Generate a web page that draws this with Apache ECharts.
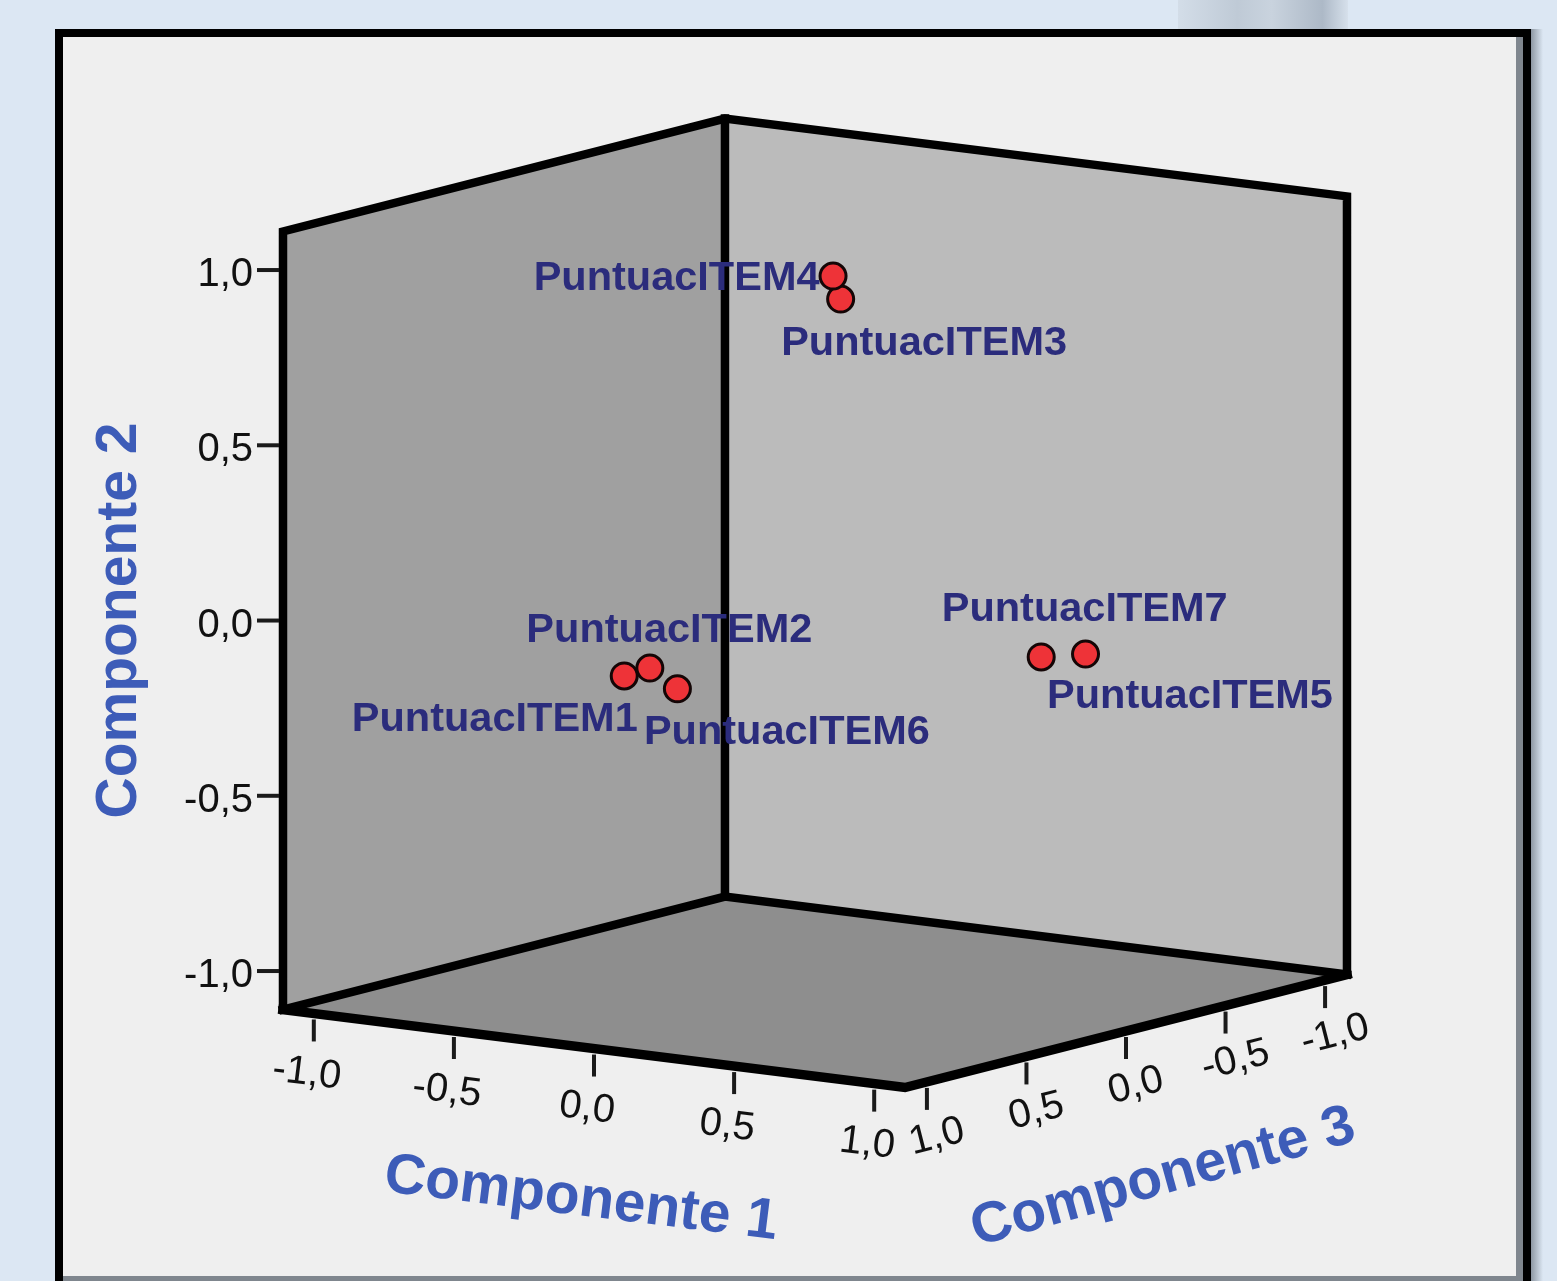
<!DOCTYPE html>
<html>
<head>
<meta charset="utf-8">
<title>Gráfico de componentes en espacio rotado</title>
<style>
  html, body { margin: 0; padding: 0; background: #dce7f3; }
  #chart { width: 1557px; height: 1281px; }
</style>
<script src="https://cdn.jsdelivr.net/npm/echarts@6/dist/echarts.min.js"></script>
</head>
<body>
<div id="chart"></div>
<script>
// Rotated component loadings for each item
const items = ['PuntuacITEM1', 'PuntuacITEM2', 'PuntuacITEM3', 'PuntuacITEM4', 'PuntuacITEM5', 'PuntuacITEM6', 'PuntuacITEM7'];
const comp1 = [-0.02, 0.05, 0.12, 0.10, 0.93, 0.12, 0.85];
const comp2 = [-0.075, -0.05, 0.885, 0.95, -0.06, -0.108, -0.06];
const comp3 = [0.93, 0.90, 0.04, 0.05, -0.05, 0.86, 0.06];

// Axis ticks shared by the three components
const tickValues = [-1.0, -0.5, 0.0, 0.5, 1.0];
const tickLabels = ['-1,0', '-0,5', '0,0', '0,5', '1,0'];
const axisTitles = ['Componente 1', 'Componente 2', 'Componente 3'];

// Half-size of the drawn box, in loading units
const BOX = 1.11;

// Parallel projection: screen direction of one unit along Componente 1 and 3
// (Componente 2 points straight up with unit length)
const DIR1 = [0.7994, -0.1001];
const DIR3 = [-0.5680, -0.1452];
function project(c1, c2, c3) {
  return [DIR1[0] * c1 + DIR3[0] * c3, c2 + DIR1[1] * c1 + DIR3[1] * c3];
}

// Where each item's name sits around its marker (pixels from the marker centre)
const SYMBOL_SIZE = 26;
const labelPlacement = {
  PuntuacITEM1: { align: 'right', dx: 15, dy: 45 },
  PuntuacITEM2: { align: 'center', dx: 21, dy: -36 },
  PuntuacITEM3: { align: 'left', dx: -58, dy: 46 },
  PuntuacITEM4: { align: 'right', dx: -12, dy: 4 },
  PuntuacITEM5: { align: 'left', dx: -37, dy: 44 },
  PuntuacITEM6: { align: 'left', dx: -32, dy: 45 },
  PuntuacITEM7: { align: 'left', dx: -98, dy: -46 }
};

const TITLE_COLOR = '#3d5cb8';
const TICK_FONT = '40px "Liberation Sans", Arial, sans-serif';
const TITLE_FONT = 'bold 57px "Liberation Sans", Arial, sans-serif';

function renderBox(params, api) {
  const R = BOX;
  const P = (c1, c2, c3) => api.coord(project(c1, c2, c3));
  const children = [];

  const wall = (pts, fill) => children.push({
    type: 'polygon', shape: { points: pts }, style: { fill: fill, stroke: null }
  });
  wall([P(-R, -R, R), P(-R, R, R), P(-R, R, -R), P(-R, -R, -R)], '#a0a0a0');
  wall([P(-R, -R, -R), P(-R, R, -R), P(R, R, -R), P(R, -R, -R)], '#bbbbbb');
  wall([P(-R, -R, R), P(-R, -R, -R), P(R, -R, -R), P(R, -R, R)], '#8e8e8e');

  const edge = (pts, w) => children.push({
    type: 'polyline', shape: { points: pts },
    style: { stroke: '#000', lineWidth: w, fill: null, lineJoin: 'miter', lineCap: 'square' }
  });
  edge([P(-R, -R, R), P(-R, R, R), P(-R, R, -R), P(R, R, -R), P(R, -R, -R)], 8.5);
  edge([P(-R, R, -R), P(-R, -R, -R)], 8.5);
  edge([P(-R, -R, R), P(-R, -R, -R), P(R, -R, -R)], 8.5);
  edge([P(-R, -R, R), P(R, -R, R), P(R, -R, -R)], 9.5);

  const tick = (x1, y1, x2, y2) => children.push({
    type: 'line', shape: { x1: x1, y1: y1, x2: x2, y2: y2 },
    style: { stroke: '#1a1a1a', lineWidth: 4 }
  });
  const text = (x, y, str, font, fill, align, rot) => children.push({
    type: 'text', x: x, y: y, rotation: rot || 0,
    style: { text: str, font: font, fill: fill, align: align, verticalAlign: 'middle' }
  });

  tickValues.forEach((t, i) => {
    // Componente 2 along the left vertical edge
    const a = P(-R, t, R);
    tick(a[0] - 26, a[1], a[0] - 4, a[1]);
    text(a[0] - 30, a[1] + 5, tickLabels[i], TICK_FONT, '#111', 'right');
    // Componente 1 along the front-left floor edge
    const b = P(t, -R, R);
    tick(b[0], b[1] + 6, b[0], b[1] + 28);
    text(b[0] - 7, b[1] + 60, tickLabels[i], TICK_FONT, '#111', 'center', -0.124);
    // Componente 3 along the front-right floor edge
    const c = P(R, -R, t);
    tick(c[0], c[1] + 6, c[0], c[1] + 28);
    text(c[0] + 10, c[1] + 55, tickLabels[i], TICK_FONT, '#111', 'center', 0.25);
  });

  const m1 = P(0, -R, R);
  text(m1[0] - 13, m1[1] + 151, axisTitles[0], TITLE_FONT, TITLE_COLOR, 'center', -0.122);
  const m2 = P(-R, 0, R);
  text(m2[0] - 163, m2[1], axisTitles[1], TITLE_FONT, TITLE_COLOR, 'center', Math.PI / 2);
  const m3 = P(R, -R, 0);
  text(m3[0] + 37, m3[1] + 147, axisTitles[2], TITLE_FONT, TITLE_COLOR, 'center', 0.27);

  return { type: 'group', children: children };
}

const half = SYMBOL_SIZE / 2;
const points = items.map((name, i) => {
  const lp = labelPlacement[name];
  return {
    name: name,
    value: project(comp1[i], comp2[i], comp3[i]),
    label: {
      position: [half + lp.dx, half + lp.dy],
      align: lp.align,
      verticalAlign: 'middle'
    }
  };
});

const chart = echarts.init(document.getElementById('chart'), null, { renderer: 'canvas' });
chart.setOption({
  animation: false,
  backgroundColor: '#dce7f3',
  graphic: [
    { type: 'rect', z: 0, shape: { x: 1178, y: 0, width: 170, height: 30 },
      style: { fill: { type: 'linear', x: 0, y: 0, x2: 1, y2: 0, colorStops: [
        { offset: 0, color: '#d3dde8' }, { offset: 0.35, color: '#bfcad6' },
        { offset: 0.55, color: '#c9d3de' }, { offset: 0.85, color: '#adb9c7' }, { offset: 1, color: '#d6e0eb' }] } } },
    { type: 'rect', z: 0, shape: { x: 1531, y: 29, width: 12, height: 1260 },
      style: { fill: { type: 'linear', x: 0, y: 0, x2: 1, y2: 0, colorStops: [
        { offset: 0, color: '#8e98a3' }, { offset: 1, color: '#dce7f3' }] } } },
    { type: 'rect', z: 0, shape: { x: 59, y: 33, width: 1468, height: 1300 },
      style: { fill: '#efefef', stroke: '#000', lineWidth: 8 } },
    { type: 'rect', z: 0, shape: { x: 1516, y: 37, width: 7, height: 1250 },
      style: { fill: '#7f868e' } },
    { type: 'rect', z: 0, shape: { x: 63, y: 1276, width: 1460, height: 10 },
      style: { fill: '#7f868e' } }
  ],
  grid: { left: 0, right: 0, top: 0, bottom: 0 },
  xAxis: { type: 'value', min: -2.3252, max: 2.1170, show: false },
  yAxis: { type: 'value', min: -1.9344, max: 1.7204, show: false },
  tooltip: { show: false },
  series: [
    {
      type: 'custom',
      z: 2,
      clip: false,
      silent: true,
      data: [[0, 0]],
      renderItem: renderBox
    },
    {
      type: 'scatter',
      z: 5,
      symbol: 'circle',
      symbolSize: SYMBOL_SIZE,
      itemStyle: { color: '#ee3338', borderColor: '#140606', borderWidth: 3, opacity: 1 },
      label: {
        show: true,
        formatter: '{b}',
        fontFamily: '"Liberation Sans", Arial, sans-serif',
        fontWeight: 'bold',
        fontSize: 41.5,
        color: '#2b2c7c'
      },
      data: points
    }
  ]
});
</script>
</body>
</html>
